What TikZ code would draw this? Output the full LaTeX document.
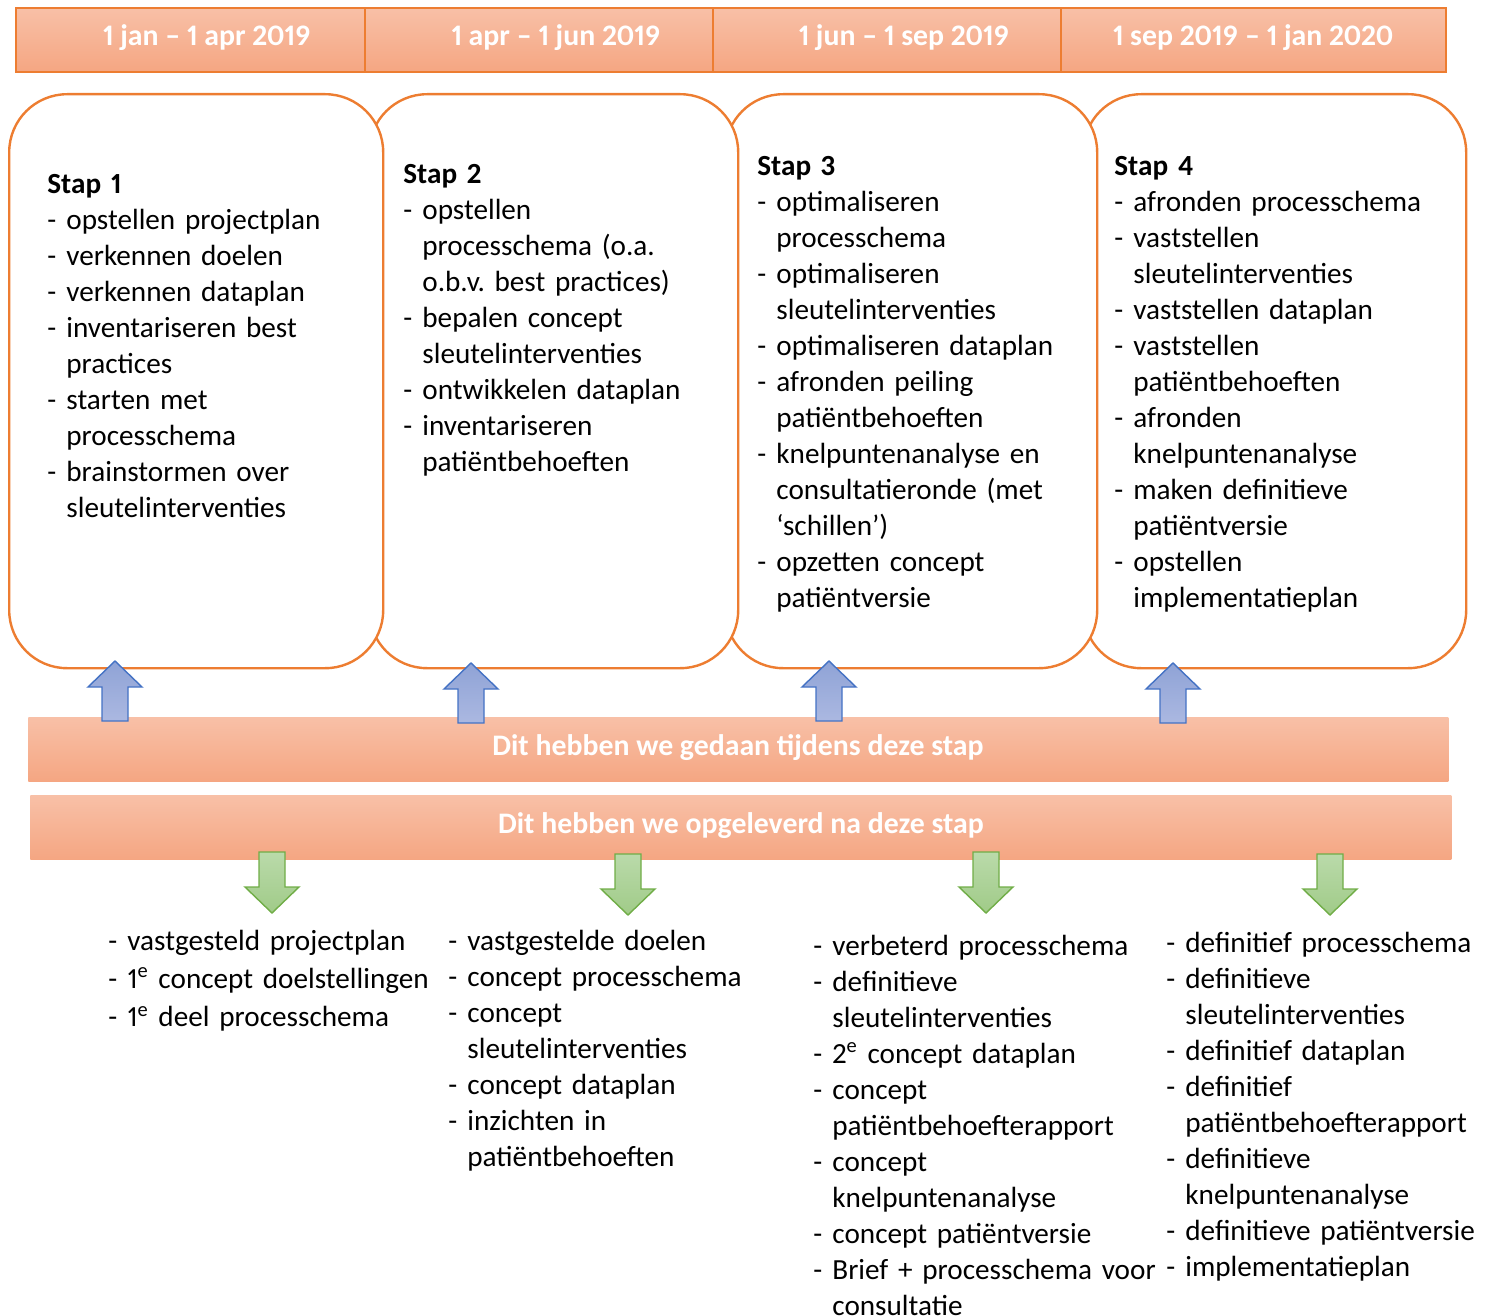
\documentclass[tikz,border=0pt]{standalone}
\usepackage{fontspec}
\setmainfont{Carlito}[Numbers={Proportional,Lining}]
\definecolor{orng}{RGB}{237,125,49}
\definecolor{hdrtop}{RGB}{248,192,167}
\definecolor{hdrbot}{RGB}{245,166,130}
\definecolor{bluetop}{RGB}{143,163,214}
\definecolor{bluebot}{RGB}{171,184,225}
\definecolor{blueedge}{RGB}{68,114,196}
\definecolor{greentop}{RGB}{186,218,170}
\definecolor{greenbot}{RGB}{160,203,136}
\definecolor{greenedge}{RGB}{112,173,71}
\newcommand\dl[1]{\makebox[9.5pt][l]{-}#1}
\newcommand\cl[1]{\hspace*{9.5pt}#1}
\tikzset{
 hdr/.style={draw=orng, line width=0.8pt, top color=hdrtop, bottom color=hdrbot, anchor=north west, minimum height=32pt, inner sep=0pt},
 band/.style={top color=hdrtop, bottom color=hdrbot, anchor=north west, minimum height=32pt, inner sep=0pt},
 stepbox/.style={draw=orng, line width=1.2pt, fill=white, rounded corners=29pt, anchor=north west, minimum height=287pt, inner sep=0pt},
 hdrtext/.style={text=white, font=\bfseries\fontsize{14.9}{17}\selectfont, anchor=base, inner sep=0pt},
 body/.style={anchor=base west, align=left, inner sep=0pt, text width=240pt, font=\frenchspacing\fontsize{14.6}{18}\selectfont},
 uparr/.style={draw=blueedge, line width=0.7pt, top color=bluetop, bottom color=bluebot},
 downarr/.style={draw=greenedge, line width=0.7pt, top color=greentop, bottom color=greenbot},
}
\begin{document}
\begin{tikzpicture}[x=0.5pt,y=-0.5pt]
\useasboundingbox (0,0) rectangle (1485,1316);
% header cells
\node[hdr, minimum width=174.5pt] (h1) at (15,7) {};
\node[hdr, minimum width=174pt] (h2) at (364,7) {};
\node[hdr, minimum width=174pt] (h3) at (712,7) {};
\node[hdr, minimum width=192.5pt] (h4) at (1060,7) {};
\node[hdrtext] (t1) at (207,46) {1 jan – 1 apr 2019};
\node[hdrtext] (t2) at (556,46) {1 apr – 1 jun 2019};
\node[hdrtext] (t3) at (904,46) {1 jun – 1 sep 2019};
\node[hdrtext] (t4) at (1253,46) {1 sep 2019 – 1 jan 2020};
% step boxes
\node[stepbox, minimum width=191.5pt] (b4) at (1082,93) {};
\node[stepbox, minimum width=186pt] (b3) at (724,93) {};
\node[stepbox, minimum width=184.5pt] (b2) at (368,93) {};
\node[stepbox, minimum width=187pt] (b1) at (8,93) {};
\node[body] (s1) at (47,194) {\textbf{Stap 1}\\
\dl{opstellen projectplan}\\
\dl{verkennen doelen}\\
\dl{verkennen dataplan}\\
\dl{inventariseren best}\\
\cl{practices}\\
\dl{starten met}\\
\cl{processchema}\\
\dl{brainstormen over}\\
\cl{sleutelinterventies}};
\node[body] (s2) at (403,184) {\textbf{Stap 2}\\
\dl{opstellen}\\
\cl{processchema (o.a.}\\
\cl{o.b.v. best practices)}\\
\dl{bepalen concept}\\
\cl{sleutelinterventies}\\
\dl{ontwikkelen dataplan}\\
\dl{inventariseren}\\
\cl{patiëntbehoeften}};
\node[body] (s3) at (757,176) {\textbf{Stap 3}\\
\dl{optimaliseren}\\
\cl{processchema}\\
\dl{optimaliseren}\\
\cl{sleutelinterventies}\\
\dl{optimaliseren dataplan}\\
\dl{afronden peiling}\\
\cl{patiëntbehoeften}\\
\dl{knelpuntenanalyse en}\\
\cl{consultatieronde (met}\\
\cl{‘schillen’)}\\
\dl{opzetten concept}\\
\cl{patiëntversie}};
\node[body] (s4) at (1114,176) {\textbf{Stap 4}\\
\dl{afronden processchema}\\
\dl{vaststellen}\\
\cl{sleutelinterventies}\\
\dl{vaststellen dataplan}\\
\dl{vaststellen}\\
\cl{patiëntbehoeften}\\
\dl{afronden}\\
\cl{knelpuntenanalyse}\\
\dl{maken definitieve}\\
\cl{patiëntversie}\\
\dl{opstellen}\\
\cl{implementatieplan}};
% bands
\node[band, minimum width=710pt] (band1) at (28,717) {};
\node[band, minimum width=710.5pt] (band2) at (30,795) {};
\node[hdrtext] (bt1) at (738,755) {Dit hebben we gedaan tijdens deze stap};
\node[hdrtext] (bt2) at (741,833) {Dit hebben we opgeleverd na deze stap};
% up arrows
\foreach \cx/\ty [count=\i] in {115/661,471/663,829/661,1173/663}{
  \path[uparr] (\cx,\ty) -- ++(27,26) -- ++(-14,0) -- ++(0,34) -- ++(-26,0) -- ++(0,-34) -- ++(-14,0) -- cycle;
  \coordinate (up\i) at (\cx,\ty);
}
% down arrows
\foreach \cx/\ty [count=\i] in {272/852,628/854,986/852,1330/854}{
  \path[downarr] (\cx,\ty) ++(-13,0) -- ++(26,0) -- ++(0,35) -- ++(14,0) -- ++(-27,26) -- ++(-27,-26) -- ++(14,0) -- cycle;
  \coordinate (dn\i) at (\cx,\ty);
}
% deliverables
\node[body, font=\frenchspacing\fontsize{14.6}{19.2}\selectfont] (d1) at (108,950) {\dl{vastgesteld projectplan}\\
\dl{1\textsuperscript{e} concept doelstellingen}\\
\dl{1\textsuperscript{e} deel processchema}};
\node[body] (d2) at (448,950) {\dl{vastgestelde doelen}\\
\dl{concept processchema}\\
\dl{concept}\\
\cl{sleutelinterventies}\\
\dl{concept dataplan}\\
\dl{inzichten in}\\
\cl{patiëntbehoeften}};
\node[body] (d3) at (813,955) {\dl{verbeterd processchema}\\
\dl{definitieve}\\
\cl{sleutelinterventies}\\
\dl{2\textsuperscript{e} concept dataplan}\\
\dl{concept}\\
\cl{patiëntbehoefterapport}\\
\dl{concept}\\
\cl{knelpuntenanalyse}\\
\dl{concept patiëntversie}\\
\dl{Brief + processchema voor}\\
\cl{consultatie}};
\node[body] (d4) at (1166,952) {\dl{definitief processchema}\\
\dl{definitieve}\\
\cl{sleutelinterventies}\\
\dl{definitief dataplan}\\
\dl{definitief}\\
\cl{patiëntbehoefterapport}\\
\dl{definitieve}\\
\cl{knelpuntenanalyse}\\
\dl{definitieve patiëntversie}\\
\dl{implementatieplan}};
\end{tikzpicture}
\end{document}
